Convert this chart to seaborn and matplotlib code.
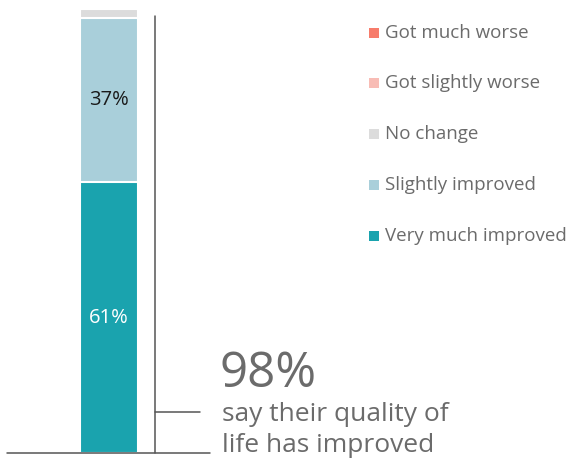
import matplotlib
matplotlib.use("Agg")
import matplotlib.pyplot as plt
import seaborn as sns
import pandas as pd
import numpy as np

# Survey responses (percent of respondents), bottom to top of the stack
categories = ["Very much improved", "Slightly improved", "No change",
              "Got slightly worse", "Got much worse"]
values = [61, 37, 2, 0, 0]
colors = ["#1aa3ae", "#a9cfda", "#dcdcdc", "#f8bcb5", "#f77c6b"]
label_colors = ["white", "#1a1a1a", None, None, None]
headline_value = "98%"
headline_text = ["say their quality of", "life has improved"]

sns.set_theme(style="white")
plt.rcParams["font.family"] = ["Open Sans", "DejaVu Sans"]

W, H = 571, 459
fig = plt.figure(figsize=(W / 100, H / 100), dpi=100)

# Bar axes: y=0 at the baseline, y=100 at the top of the stack
base_px, top_px = 453, 9
ax = fig.add_axes([0, (H - base_px) / H, 1, (base_px - top_px) / H])
unit = 58 / 0.8
center = 109
ax.set_xlim(-center / unit, (W - center) / unit)
ax.set_ylim(0, 100)
ax.axis("off")

cum = np.cumsum(values)
df = pd.DataFrame({"group": ["all"] * len(values), "cum": cum, "cat": categories})
# Draw cumulative layers from the tallest down so lower segments sit on top
for i in reversed(range(len(values))):
    sns.barplot(data=df.iloc[[i]], x="group", y="cum", color=colors[i],
                width=0.8, edgecolor="white", linewidth=1.5,
                saturation=1, ax=ax)
ax.set_xlim(-center / unit, (W - center) / unit)
ax.set_ylim(0, 100)
ax.axis("off")

# Segment value labels
start = 0
for v, lc in zip(values, label_colors):
    if lc is not None:
        ax.text(0, start + v / 2, f"{v}%", ha="center", va="center",
                color=lc, fontsize=14.5)
    start += v

# Overlay axes in pixel coordinates for rules, headline and legend
ov = fig.add_axes([0, 0, 1, 1], facecolor="none")
ov.set_xlim(0, W)
ov.set_ylim(H, 0)
ov.axis("off")

line_c = "#555555"
ov.plot([7, 210], [453, 453], color=line_c, lw=1.1)
ov.plot([155, 155], [16, 453], color=line_c, lw=1.1)
ov.plot([155, 200], [412, 412], color=line_c, lw=1.1)

txt_c = "#6b6b6b"
ov.text(220, 387, headline_value, fontsize=35.5, color=txt_c,
        ha="left", va="baseline")
ov.text(222, 421, headline_text[0], fontsize=19, color=txt_c,
        ha="left", va="baseline")
ov.text(222, 452, headline_text[1], fontsize=19, color=txt_c,
        ha="left", va="baseline")

# Legend, top entry is the last stacked category
leg_y = [33, 83, 134, 185, 236]
for y, cat, c in zip(leg_y, categories[::-1], colors[::-1]):
    ov.scatter([374], [y], marker="s", s=42, color=c, linewidths=0)
    ov.text(385, y, cat, fontsize=13.5, color=txt_c, ha="left", va="center")

fig.savefig("out.png", dpi=100)
